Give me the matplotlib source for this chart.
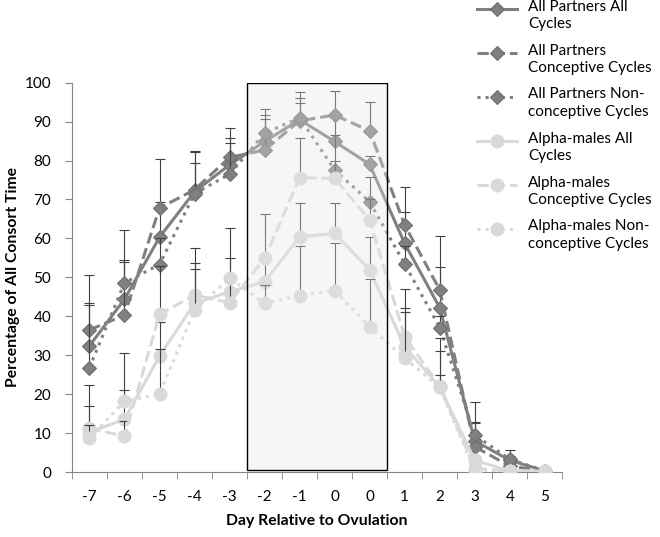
import numpy as np
import matplotlib
matplotlib.use("Agg")
import matplotlib.pyplot as plt
from matplotlib.lines import Line2D
from matplotlib.patches import Rectangle

plt.rcParams['font.family'] = ['Lato', 'DejaVu Sans']

# Day categories (the original chart repeats "0")
days = ['-7', '-6', '-5', '-4', '-3', '-2', '-1', '0', '0', '1', '2', '3', '4', '5']

# Percentage of consort time
ap_all = [32.4, 44.4, 60.3, 72.0, 78.9, 84.9, 90.5, 84.9, 79.0, 58.7, 42.2, 8.0, 3.0, 0.3]
ap_con = [36.5, 40.3, 67.8, 72.5, 80.8, 82.7, 90.2, 91.7, 87.6, 63.4, 46.8, 6.5, 1.5, 0.3]
ap_non = [26.8, 48.6, 53.3, 71.5, 76.5, 87.0, 91.0, 77.6, 69.4, 53.4, 37.1, 9.5, 3.3, 0.3]
am_all = [10.3, 13.5, 29.8, 43.3, 46.3, 48.9, 60.4, 61.3, 51.9, 32.2, 21.9, 3.0, 0.3, 0.2]
am_con = [11.2, 9.2, 40.5, 45.5, 43.5, 54.9, 75.6, 75.4, 64.7, 34.8, 22.0, 1.0, 0.2, 0.2]
am_non = [8.7, 18.2, 20.0, 41.6, 49.8, 43.3, 45.3, 46.6, 37.3, 29.2, 21.8, 0.2, 0.2, 0.2]

# upper error bars
ap_all_err = [10.9, 10.1, 20.0, 10.3, 7.0, 6.8, 7.2, 6.8, 2.2, 8.2, 10.5, 4.9, 1.0, 0.2]
ap_con_err = [14.1, 13.6, 1.6, 9.9, 7.6, 7.9, 4.5, 6.2, 7.5, 9.9, 13.8, 6.0, 1.0, 0.2]
ap_non_err = [16.1, 13.6, 6.7, 7.8, 8.1, 6.2, 5.0, 9.0, 6.5, 4.6, 2.9, 8.6, 2.3, 0.2]
am_all_err = [12.0, 7.6, 8.8, 10.5, 8.6, 5.1, 8.6, 7.9, 8.5, 10.0, 9.2, 1.0, 0.2, 0.1]
am_con_err = [5.8, 3.8, 12.5, 12.0, 5.5, 11.5, 10.3, 4.6, 5.3, 12.1, 12.4, 1.0, 0.2, 0.1]
am_non_err = [3.3, 12.3, 11.6, 10.5, 12.8, 4.7, 12.8, 12.3, 12.3, 12.0, 3.2, 0.8, 0.2, 0.1]

labels = ['All Partners All\nCycles', 'All Partners\nConceptive Cycles',
          'All Partners Non-\nconceptive Cycles', 'Alpha-males All\nCycles',
          'Alpha-males\nConceptive Cycles', 'Alpha-males Non-\nconceptive Cycles']

DARK = '#808080'
LIGHT = '#d9d9d9'
series = [
    (ap_all, ap_all_err, DARK, '-', 'D'),
    (ap_con, ap_con_err, DARK, '--', 'D'),
    (ap_non, ap_non_err, DARK, ':', 'D'),
    (am_all, am_all_err, LIGHT, '-', 'o'),
    (am_con, am_con_err, LIGHT, '--', 'o'),
    (am_non, am_non_err, LIGHT, ':', 'o'),
]

fig = plt.figure(figsize=(6.6, 5.37), dpi=100)
ax = fig.add_axes([0.109, 0.121, 0.743, 0.725])
x = np.arange(len(days))

def style(color, marker):
    if marker == 'D':
        return dict(marker='D', markersize=7.5, markerfacecolor=color,
                    markeredgecolor='#6e6e6e', markeredgewidth=0.8)
    return dict(marker='o', markersize=9.5, markerfacecolor=color,
                markeredgecolor=color, markeredgewidth=0.5)

z = 2
for vals, err, color, ls, mk in series:
    ax.errorbar(x, vals, yerr=[np.zeros(len(err)), err], fmt='none',
                ecolor='#404040', elinewidth=0.8, capsize=3.5, capthick=0.8, zorder=z)
    ax.plot(x, vals, color=color, linestyle=ls, linewidth=2.2, zorder=z + 0.5,
            **style(color, mk))
    z += 1

# highlighted window drawn over the data
ax.add_patch(Rectangle((4.5, 0.5), 4, 99.5, facecolor='#e6e6e6', alpha=0.35,
                       edgecolor='none', zorder=20))
ax.add_patch(Rectangle((4.5, 0.5), 4, 99.5, facecolor='none',
                       edgecolor='black', linewidth=1.0, zorder=21))

ax.set_xlim(-0.5, len(days) - 0.5)
ax.set_ylim(0, 100)
ax.set_yticks(np.arange(0, 101, 10))
ax.set_xticks(x)
ax.set_xticklabels(days)
ax.set_xticks(np.arange(-0.5, len(days), 1), minor=True)
ax.tick_params(axis='x', which='major', length=0, pad=13, labelsize=11)
ax.tick_params(axis='x', which='minor', length=5, color='#868686', direction='out')
ax.tick_params(axis='y', length=5, color='#868686', pad=10, labelsize=11)

for s in ['top', 'right']:
    ax.spines[s].set_visible(False)
for s in ['left', 'bottom']:
    ax.spines[s].set_color('#868686')

ax.set_ylabel('Percentage of All Consort Time', fontsize=11.3, fontweight='bold', labelpad=3)
ax.set_xlabel('Day Relative to Ovulation', fontsize=11.3, fontweight='bold', labelpad=7)

# legend at the right, handle aligned with first text line
W, H = 660, 537
hx0, hx1, tx = 477, 517, 528
tops = [9, 53, 97, 141, 185, 229]
for (vals, err, color, ls, mk), lab, ty in zip(series, labels, tops):
    yf = 1 - ty / H
    ln = Line2D([hx0 / W, (hx0 + hx1) / 2 / W, hx1 / W], [yf, yf, yf],
                transform=fig.transFigure, color=color, linestyle=ls, linewidth=2.2,
                markevery=[1], **style(color, mk))
    fig.add_artist(ln)
    fig.text(tx / W, yf + 9.5 / H, lab, ha='left', va='top', fontsize=11,
             linespacing=1.3)

fig.savefig('out.png', dpi=100)
